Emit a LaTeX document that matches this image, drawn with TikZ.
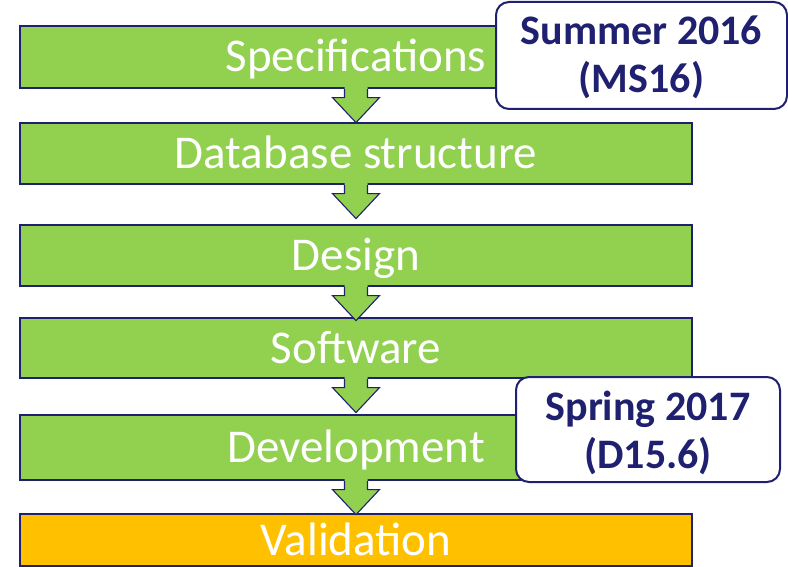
\documentclass[tikz,border=0pt]{standalone}
\usepackage{fontspec}
\setmainfont{Carlito}
\usetikzlibrary{calc}
\definecolor{stepgreen}{RGB}{146,208,80}
\definecolor{stepgold}{RGB}{255,192,0}
\definecolor{navy}{RGB}{32,32,112}
\tikzset{
  stepbox/.style={draw=navy, line width=1.2pt, fill=stepgreen, minimum width=672pt,
    inner sep=0pt, text=white, text height=32pt, text depth=2pt,
    font=\fontsize{47}{56}\selectfont},
  lastbox/.style={stepbox, fill=stepgold},
  milestone/.style={draw=navy, line width=2pt, fill=white, rounded corners=13pt,
    inner sep=0pt},
  milestonetext/.style={inner sep=0pt, text=navy, align=center,
    font=\fontsize{42}{48}\bfseries\selectfont},
  arrowfill/.style={fill=stepgreen},
  arrowedge/.style={draw=navy, line width=1.1pt, line join=miter}
}
\begin{document}
\begin{tikzpicture}[x=1pt,y=1pt]
\useasboundingbox (0,0) rectangle (788,-567);

% process steps
\node[stepbox, minimum height=62pt] (spec)   at (356,-57)    {Specifications};
\node[stepbox, minimum height=61pt] (db)     at (356,-153.5) {Database structure};
\node[stepbox, minimum height=61pt] (design) at (356,-255.5) {Design};
\node[stepbox, minimum height=60pt] (soft)   at (356,-348)   {Software};
\node[stepbox, minimum height=65pt] (dev)    at (356,-447.5) {Development};
\node[lastbox, minimum height=52pt] (valid)  at (356,-540)   {Validation};

% block arrows between consecutive steps
\foreach \a/\b in {spec/db, db/design, design/soft, soft/dev, dev/valid} {
  \path (\a.south) coordinate (t);
  \fill[arrowfill] ($(t)+(-11.5,3)$) -- ($(t)+(-11.5,-9)$) -- ($(t)+(-23.5,-9)$)
    -- ($(t)+(0,-34)$) -- ($(t)+(23.5,-9)$) -- ($(t)+(11.5,-9)$)
    -- ($(t)+(11.5,3)$) -- cycle;
  \draw[arrowedge] ($(t)+(-11.5,-0.6)$) -- ($(t)+(-11.5,-9)$) -- ($(t)+(-23.5,-9)$)
    -- ($(t)+(0,-34)$) -- ($(t)+(23.5,-9)$) -- ($(t)+(11.5,-9)$)
    -- ($(t)+(11.5,-0.6)$);
}

% milestones
\node[milestone, minimum width=291pt, minimum height=107pt] (ms16) at (641.5,-55.5) {};
\node[milestonetext] (ms16txt) at ($(ms16.center)+(0,-2)$) {Summer 2016\\(MS16)};
\node[milestone, minimum width=264pt, minimum height=105pt] (d156) at (648,-429.5) {};
\node[milestonetext] (d156txt) at ($(d156.center)+(0,-3.5)$) {Spring 2017\\(D15.6)};
\end{tikzpicture}
\end{document}
